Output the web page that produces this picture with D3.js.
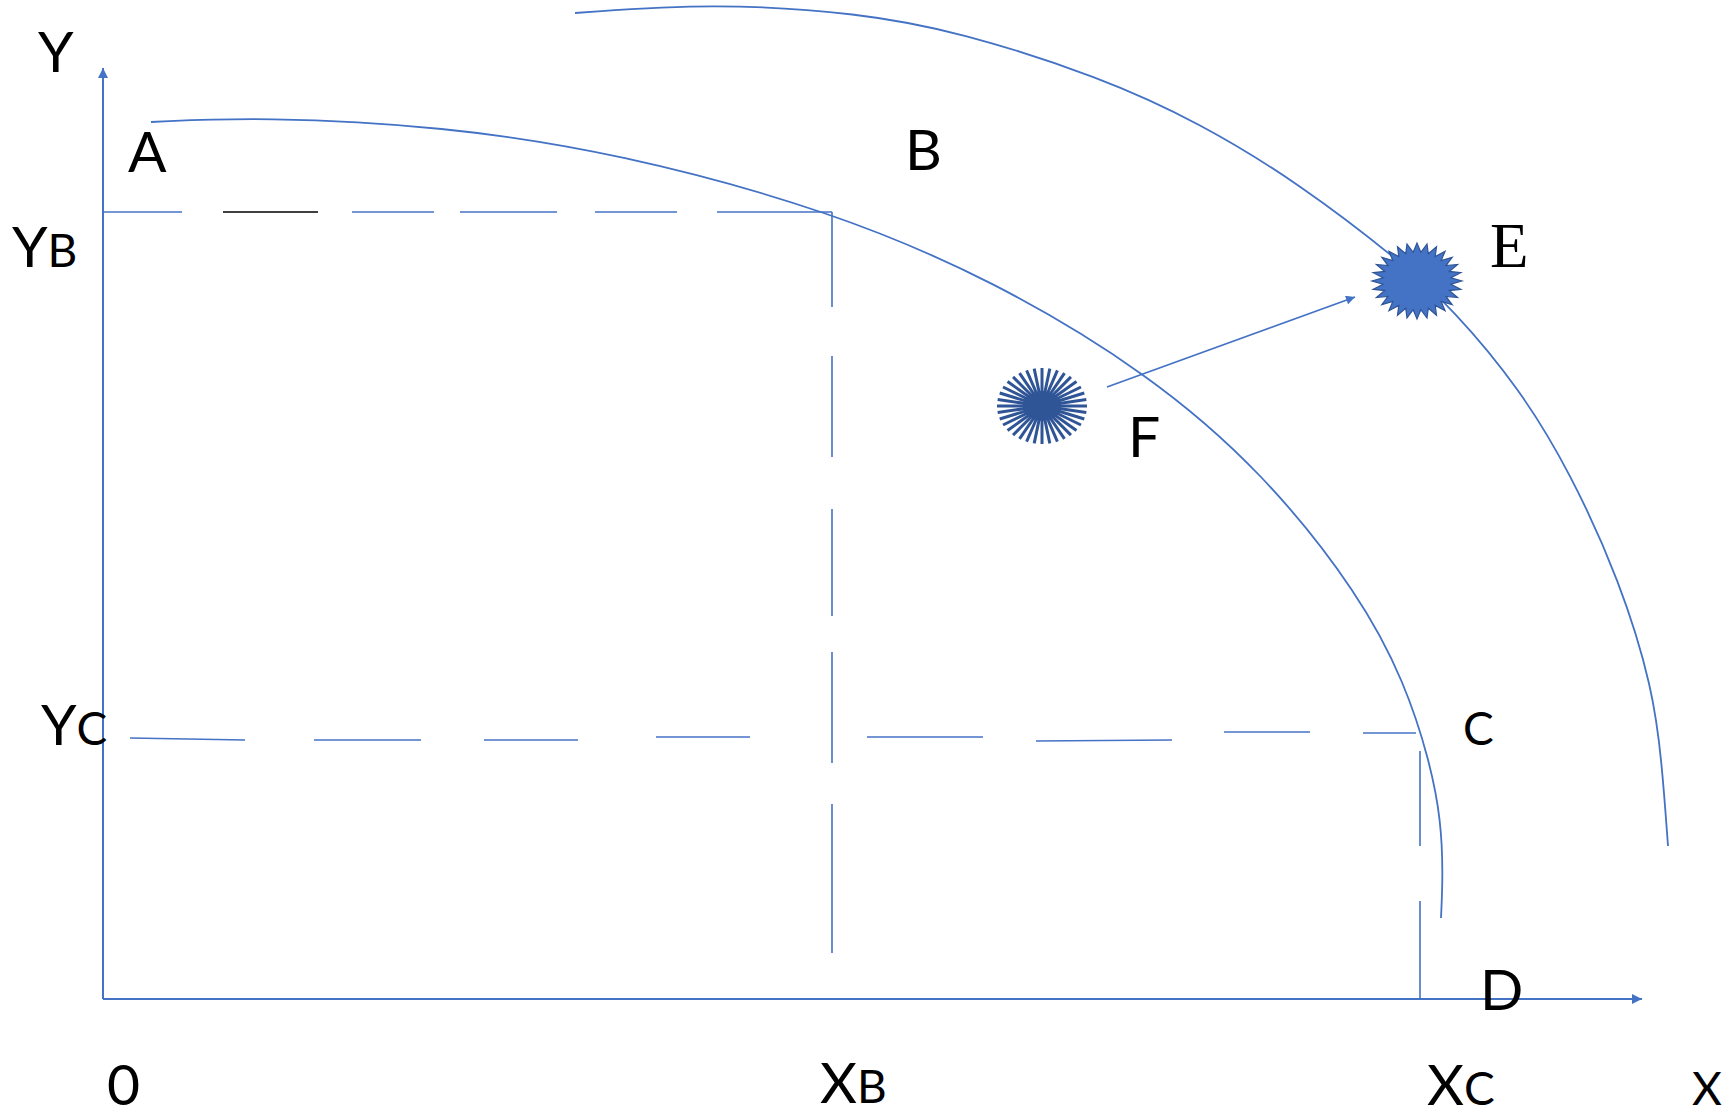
<!DOCTYPE html>
<html>
<head>
<meta charset="utf-8">
<script src="https://cdn.jsdelivr.net/npm/d3@7"></script>
<style>
  body { margin: 0; background: #fff; }
  svg { display: block; }
</style>
</head>
<body>
<svg id="chart"></svg>
<script>
// all values in diagram units, origin at the axes corner
const innerCurve = [[48, 877], [159, 882], [339, 873], [516, 846], [729, 788], [892, 718], [1045, 626],
  [1160, 527], [1257, 404], [1302, 316], [1327, 237], [1338, 179], [1340, 125], [1338, 81]];
const outerCurve = [[472, 986], [610, 996], [757, 986], [857, 967], [997, 922], [1097, 876], [1197, 815],
  [1297, 738], [1350, 690], [1417, 610], [1467, 527], [1517, 418], [1550, 310], [1559, 235], [1565, 153]];

const yB = 787;
const xB = 729;
const xC = 1317;
const yBDashes = [[0, 79], [120, 215], [249, 331], [357, 454], [492, 574], [614, 729]];
const yBDashColors = ['blue', 'black', 'blue', 'blue', 'blue', 'blue'];
const xBDashes = [[787, 692], [643, 542], [490, 383], [347, 236], [195, 46]];
const yCDashes = [[27, 261, 142, 259], [211, 259, 318, 259], [381, 259, 475, 259], [553, 262, 647, 262],
  [764, 262, 880, 262], [933, 258, 1069, 259], [1121, 267, 1207, 267], [1260, 266, 1313, 266]];
const xCDashes = [[248, 153], [98, 0]];

const moveArrow = [[1004, 612], [1252, 702]];
const pointE = [1314, 718];
const pointF = [939, 593];

const labels = [
  { t: 'Y', x: -65, y: 927 }, { t: 'A', x: 25, y: 827 }, { t: 'B', x: 802, y: 829 },
  { t: 'Y', s: 'B', x: -91, y: 732 }, { t: 'F', x: 1025, y: 542 },
  { t: 'Y', s: 'C', x: -62, y: 254 }, { t: 'D', x: 1377, y: -11 },
  { t: '0', x: 4, y: -106 }, { t: 'X', s: 'B', x: 717, y: -104 }, { t: 'X', s: 'C', x: 1324, y: -106 }
];
const smallLabels = [{ t: 'C', x: 1360, y: 254 }, { t: 'X', x: 1589, y: -106 }];
const serifLabels = [{ t: 'E', x: 1387, y: 732 }];

const W = 1734, H = 1117;
const blue = '#4472c4', dark = '#2f5597';

const x = d3.scaleLinear().domain([0, 1539]).range([103, 1642]);
const y = d3.scaleLinear().domain([0, 931]).range([999, 68]);

const svg = d3.select('#chart').attr('width', W).attr('height', H);

const defs = svg.append('defs');
defs.append('marker')
  .attr('id', 'head')
  .attr('viewBox', '0 0 10 10')
  .attr('refX', 10).attr('refY', 5)
  .attr('markerWidth', 6).attr('markerHeight', 5)
  .attr('markerUnits', 'strokeWidth')
  .attr('orient', 'auto')
  .append('path').attr('d', 'M0,0L10,5L0,10z').attr('fill', blue);

// axes
svg.append('line')
  .attr('x1', x(0)).attr('y1', y(0)).attr('x2', x(0)).attr('y2', y(931))
  .attr('stroke', blue).attr('stroke-width', 2).attr('marker-end', 'url(#head)');
svg.append('line')
  .attr('x1', x(0)).attr('y1', y(0)).attr('x2', x(1539)).attr('y2', y(0))
  .attr('stroke', blue).attr('stroke-width', 2).attr('marker-end', 'url(#head)');

// dashed guides
svg.append('g').selectAll('line')
  .data(yBDashes)
  .enter().append('line')
  .attr('x1', d => x(d[0])).attr('x2', d => x(d[1]))
  .attr('y1', y(yB)).attr('y2', y(yB))
  .attr('stroke', (d, i) => (yBDashColors[i] === 'black' ? '#000' : blue))
  .attr('stroke-width', 1.6);

svg.append('g').selectAll('line')
  .data(xBDashes)
  .enter().append('line')
  .attr('x1', x(xB)).attr('x2', x(xB))
  .attr('y1', d => y(d[0])).attr('y2', d => y(d[1]))
  .attr('stroke', blue).attr('stroke-width', 1.6);

svg.append('g').selectAll('line')
  .data(yCDashes)
  .enter().append('line')
  .attr('x1', d => x(d[0])).attr('y1', d => y(d[1]))
  .attr('x2', d => x(d[2])).attr('y2', d => y(d[3]))
  .attr('stroke', blue).attr('stroke-width', 1.6);

svg.append('g').selectAll('line')
  .data(xCDashes)
  .enter().append('line')
  .attr('x1', x(xC)).attr('x2', x(xC))
  .attr('y1', d => y(d[0])).attr('y2', d => y(d[1]))
  .attr('stroke', blue).attr('stroke-width', 1.6);

// production possibility curves (B-spline to smooth the read-off points)
const line = d3.line().x(d => x(d[0])).y(d => y(d[1])).curve(d3.curveBasis);
svg.append('path').attr('d', line(innerCurve))
  .attr('fill', 'none').attr('stroke', blue).attr('stroke-width', 1.8);
svg.append('path').attr('d', line(outerCurve))
  .attr('fill', 'none').attr('stroke', blue).attr('stroke-width', 1.8);

// arrow F -> E
svg.append('line')
  .attr('x1', x(moveArrow[0][0])).attr('y1', y(moveArrow[0][1]))
  .attr('x2', x(moveArrow[1][0])).attr('y2', y(moveArrow[1][1]))
  .attr('stroke', blue).attr('stroke-width', 1.8).attr('marker-end', 'url(#head)');

// point E: spiky seal
const sealPts = [];
const nSpikes = 28;
for (let i = 0; i < nSpikes * 2; i++) {
  const a = (Math.PI * i) / nSpikes;
  const r = i % 2 === 0 ? 1 : 0.76;
  sealPts.push([Math.cos(a) * 45 * r, Math.sin(a) * 38 * r]);
}
svg.append('polygon')
  .attr('transform', `translate(${x(pointE[0])},${y(pointE[1])})`)
  .attr('points', sealPts.map(p => p.join(',')).join(' '))
  .attr('fill', blue).attr('stroke', dark).attr('stroke-width', 1.2);

// point F: starburst
const gF = svg.append('g').attr('transform', `translate(${x(pointF[0])},${y(pointF[1])})`);
const nRays = 36;
gF.selectAll('line')
  .data(d3.range(nRays))
  .enter().append('line')
  .attr('x1', 0).attr('y1', 0)
  .attr('x2', i => Math.cos((2 * Math.PI * i) / nRays) * 45)
  .attr('y2', i => Math.sin((2 * Math.PI * i) / nRays) * 38)
  .attr('stroke', dark).attr('stroke-width', 3);
gF.append('ellipse').attr('rx', 19).attr('ry', 15).attr('fill', dark);

// labels
const txt = svg.append('g').attr('font-family', 'Lato, "Open Sans", sans-serif').attr('fill', '#000');
labels.forEach(d => {
  const t = txt.append('text').attr('x', x(d.x)).attr('y', y(d.y)).attr('font-size', 57);
  t.append('tspan').text(d.t);
  if (d.s) t.append('tspan').attr('font-size', 46).text(d.s);
});
smallLabels.forEach(d => {
  txt.append('text').attr('x', x(d.x)).attr('y', y(d.y)).attr('font-size', 46).text(d.t);
});
serifLabels.forEach(d => {
  svg.append('text').attr('x', x(d.x)).attr('y', y(d.y))
    .attr('font-family', '"Liberation Serif", serif').attr('font-size', 63).text(d.t);
});
</script>
</body>
</html>
